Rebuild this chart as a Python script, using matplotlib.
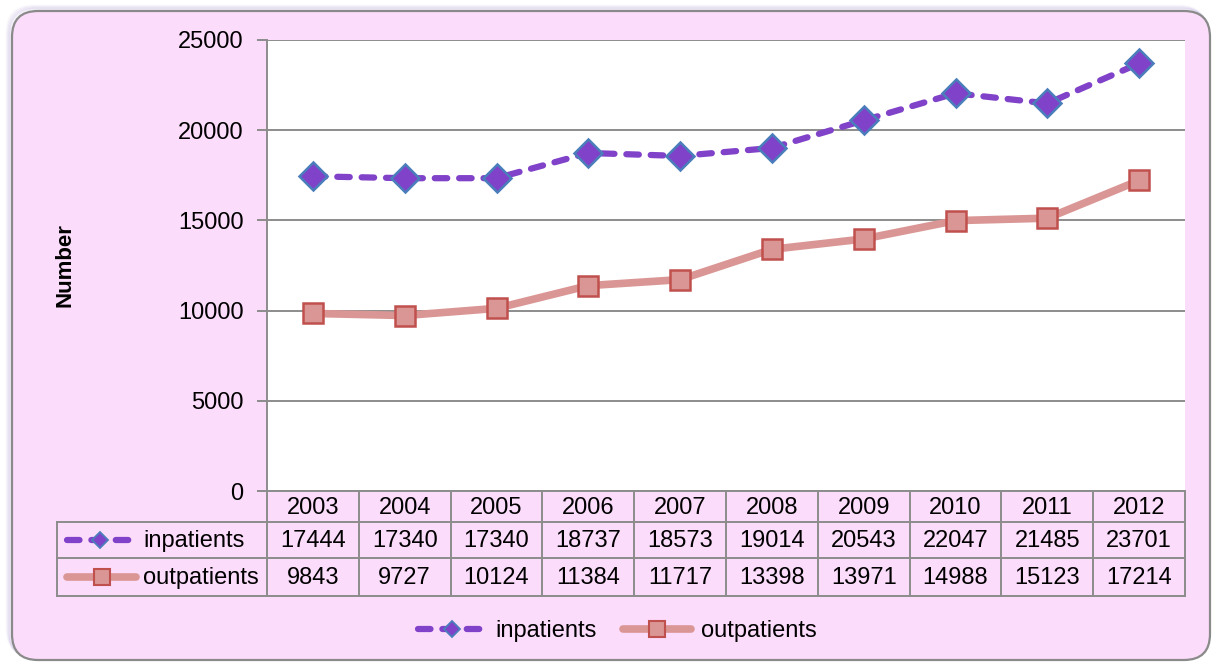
import matplotlib
matplotlib.use("Agg")
import matplotlib.pyplot as plt
from matplotlib.patches import FancyBboxPatch
from matplotlib.lines import Line2D

years = ["2003", "2004", "2005", "2006", "2007", "2008", "2009", "2010", "2011", "2012"]
inpatients = [17444, 17340, 17340, 18737, 18573, 19014, 20543, 22047, 21485, 23701]
outpatients = [9843, 9727, 10124, 11384, 11717, 13398, 13971, 14988, 15123, 17214]
yticks = [0, 5000, 10000, 15000, 20000, 25000]

plt.rcParams['font.family'] = ['Liberation Sans', 'DejaVu Sans']
FS = 17
PINK = "#fcdcfb"
GRID = "#8c8c8c"
IN_LINE = "#8042c8"
IN_EDGE = "#4a7ebb"
OUT_LINE = "#da9694"
OUT_EDGE = "#c0504d"

W, H = 1215, 665
fig = plt.figure(figsize=(W / 100, H / 100), dpi=100)
fig.patch.set_facecolor("white")

# background layer in pixel coordinates
bg = fig.add_axes([0, 0, 1, 1], zorder=0)
bg.set_xlim(0, W)
bg.set_ylim(H, 0)
bg.axis("off")
for k, a in enumerate([0.10, 0.08, 0.06, 0.04]):
    bg.add_patch(FancyBboxPatch((12 - 2 - k, 11 - 2 - k), 1198, 649,
                                boxstyle="round,pad=0,rounding_size=26",
                                facecolor="none", edgecolor="#8a6cc0",
                                lw=2, alpha=a))
bg.add_patch(FancyBboxPatch((12, 11), 1198, 649,
                            boxstyle="round,pad=0,rounding_size=26",
                            facecolor=PINK, edgecolor="#8a8a8a", lw=1.6))

# plot area
L, R, T, B = 267, 1185, 40, 491
ax = fig.add_axes([L / W, 1 - B / H, (R - L) / W, (B - T) / H], zorder=1)
ax.set_facecolor("white")
x = list(range(len(years)))
ax.plot(x, inpatients, color=IN_LINE, lw=4.5, dashes=(2.0, 1.9),
        dash_capstyle="round", marker="D", markersize=14,
        markerfacecolor=IN_LINE, markeredgecolor=IN_EDGE, markeredgewidth=1.8,
        zorder=4, label="inpatients")
ax.plot(x, outpatients, color=OUT_LINE, lw=5.5, solid_capstyle="round",
        marker="s", markersize=14, markerfacecolor=OUT_LINE,
        markeredgecolor=OUT_EDGE, markeredgewidth=1.8, zorder=3,
        label="outpatients")
ax.set_xlim(-0.5, len(years) - 0.5)
ax.set_ylim(0, 25000)
ax.set_yticks(yticks)
ax.set_yticklabels([str(v) for v in yticks], fontsize=FS)
ax.set_xticks([])
ax.yaxis.grid(True, color=GRID, lw=1.4)
ax.set_axisbelow(True)
for s in ["top", "right"]:
    ax.spines[s].set_visible(False)
ax.spines["left"].set_color(GRID)
ax.spines["left"].set_linewidth(1.4)
ax.spines["bottom"].set_color(GRID)
ax.spines["bottom"].set_linewidth(1.4)
ax.tick_params(axis="y", length=7, width=1.4, color=GRID, pad=10)
ax.set_ylabel("Number", fontsize=FS - 1, fontweight="bold")
ax.yaxis.set_label_coords(-0.209, 0.5)

# data table below the plot (pixel coordinates)
colw = (R - L) / len(years)
rows = [B, 522, 558, 596]
TL = 57
for i in range(len(years) + 1):
    bg.plot([L + i * colw] * 2, [B, rows[-1]], color=GRID, lw=1.4, zorder=2)
for yy in rows[1:]:
    bg.plot([TL, R], [yy, yy], color=GRID, lw=1.4, zorder=2)
bg.plot([TL, TL], [rows[1], rows[-1]], color=GRID, lw=1.4, zorder=2)

for i, yr in enumerate(years):
    cx = L + (i + 0.5) * colw
    bg.text(cx, (rows[0] + rows[1]) / 2 + 1, yr, ha="center", va="center", fontsize=FS)
    bg.text(cx, (rows[1] + rows[2]) / 2 + 1, str(inpatients[i]), ha="center", va="center", fontsize=FS)
    bg.text(cx, (rows[2] + rows[3]) / 2 + 1, str(outpatients[i]), ha="center", va="center", fontsize=FS)

ym1 = (rows[1] + rows[2]) / 2
ym2 = (rows[2] + rows[3]) / 2
bg.plot([67, 130], [ym1, ym1], color=IN_LINE, lw=4.5, dashes=(2.0, 1.9),
        dash_capstyle="round", zorder=3)
bg.plot([100], [ym1], marker="D", markersize=8, color=IN_LINE,
        markeredgecolor=IN_EDGE, markeredgewidth=1.3, zorder=4)
bg.plot([67, 136], [ym2, ym2], color=OUT_LINE, lw=5.5, solid_capstyle="round", zorder=3)
bg.plot([102], [ym2], marker="s", markersize=11, color=OUT_LINE,
        markeredgecolor=OUT_EDGE, markeredgewidth=1.5, zorder=4)
bg.text(143, ym1 + 1, "inpatients", ha="left", va="center", fontsize=FS)
bg.text(143, ym2 + 1, "outpatients", ha="left", va="center", fontsize=FS)

# bottom legend
h1 = Line2D([], [], color=IN_LINE, lw=4.5, dashes=(2.0, 1.9), dash_capstyle="round",
            marker="D", markersize=8, markerfacecolor=IN_LINE,
            markeredgecolor=IN_EDGE, markeredgewidth=1.3)
h2 = Line2D([], [], color=OUT_LINE, lw=5.5, solid_capstyle="round",
            marker="s", markersize=11, markerfacecolor=OUT_LINE,
            markeredgecolor=OUT_EDGE, markeredgewidth=1.5)
fig.legend([h1, h2], ["inpatients", "outpatients"], loc="center",
           bbox_to_anchor=(0.508, 1 - 631 / H), ncol=2, frameon=False,
           fontsize=FS, handlelength=2.9, handletextpad=0.4, columnspacing=1.1)

fig.savefig("out.png", dpi=100, facecolor="white")
